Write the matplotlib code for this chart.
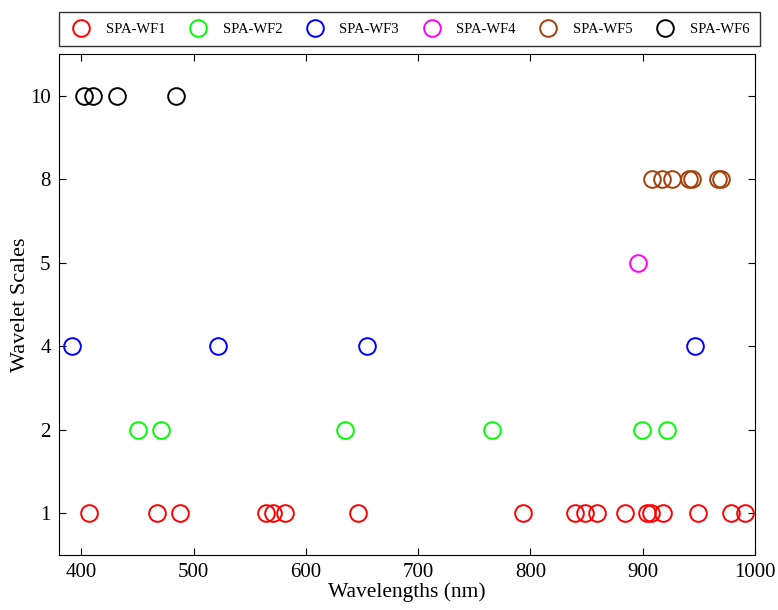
import matplotlib
matplotlib.use("Agg")
import matplotlib.pyplot as plt

plt.rcParams['font.family'] = ['Liberation Serif', 'DejaVu Serif']

# wavelengths (nm) picked for each wavelet scale
wf1 = [407, 467, 488, 564, 571, 581, 646, 793, 840, 849, 859, 884, 904, 907, 918, 949, 979, 991]
wf2 = [450, 471, 635, 766, 899, 922]
wf3 = [392, 522, 654, 947]
wf4 = [896]
wf5 = [908, 917, 926, 941, 944, 967, 970]
wf6 = [402, 410, 432, 484]

scales = ['1', '2', '4', '5', '8', '10']
series = [wf1, wf2, wf3, wf4, wf5, wf6]
names = ['SPA-WF1', 'SPA-WF2', 'SPA-WF3', 'SPA-WF4', 'SPA-WF5', 'SPA-WF6']
colors = ['#ff0000', '#00ff00', '#0000ff', '#ff00ff', '#a0400a', '#000000']

fig = plt.figure(figsize=(7.78, 6.10), dpi=100)
ax = fig.add_axes([0.0758, 0.090, 0.8946, 0.8215])

for wl, sc, name, c in zip(series, scales, names, colors):
    ax.plot(wl, [sc] * len(wl), linestyle='none', marker='o', markersize=12,
            markerfacecolor='none', markeredgecolor=c, markeredgewidth=1.4, label=name)

ax.set_xlim(380, 1000)
ax.set_ylim(-0.5, 5.5)
ax.set_xticks([400, 500, 600, 700, 800, 900, 1000])
ax.tick_params(direction='in', top=True, right=True, length=5, labelsize=15, pad=6)
ax.set_xlabel('Wavelengths (nm)', fontsize=15.5, labelpad=0)
ax.set_ylabel('Wavelet Scales', fontsize=16, labelpad=0)

leg = ax.legend(loc='lower left', bbox_to_anchor=(0, 1.016, 1.007, 0.07), mode='expand',
                ncol=6, fontsize=10.5, frameon=True, fancybox=False, edgecolor='black',
                handletextpad=0.9, borderaxespad=0, borderpad=0.7, handlelength=1.6)
leg.get_frame().set_linewidth(1.0)

fig.savefig('out.png', dpi=100)
